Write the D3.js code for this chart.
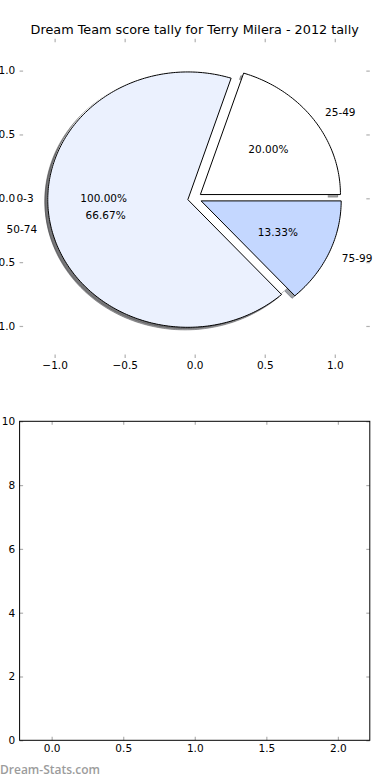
<!DOCTYPE html>
<html>
<head>
<meta charset="utf-8">
<script src="https://cdn.jsdelivr.net/npm/d3@7"></script>
<style>
  html, body { margin: 0; padding: 0; background: #fff; }
  svg { display: block; font-family: "DejaVu Sans", sans-serif; }
</style>
</head>
<body>
<script>
// ---- data ----
const title = "Dream Team score tally for Terry Milera - 2012 tally";
const firstLabels = ["0-3"];
const firstValues = [1];
const pieLabels = ["25-49", "50-74", "75-99"];
const pieValues = [3, 10, 2];
const pieColors = ["#ffffff", "#ebf1fe", "#c4d7ff"];
const firstColors = ["#ffffff"];
const pieTicks = [-1.0, -0.5, 0.0, 0.5, 1.0];
const barXTicks = [0.0, 0.5, 1.0, 1.5, 2.0];
const barYTicks = [0, 2, 4, 6, 8, 10];
const watermark = "Dream-Stats.com";

const W = 390, H = 780;
const svg = d3.select("body").append("svg").attr("width", W).attr("height", H);

const L = 19.6, R = 369.8;
const fs = 10.5;
const tickColor = "#b0b0b0";

// ---- top (pie) axes ----
const xTop = d3.scaleLinear().domain([-1.25, 1.25]).range([L, R]);
const yTop = d3.scaleLinear().domain([-1.25, 1.25]).range([357.9, 38.7]);

svg.append("text").attr("x", (L + R) / 2).attr("y", 34)
  .attr("text-anchor", "middle").attr("font-size", 12.8).attr("fill", "#000")
  .text(title);

function styleAxis(g) {
  g.select(".domain").remove();
  g.selectAll(".tick line").attr("stroke", tickColor).attr("stroke-width", 1.2);
  g.selectAll(".tick text").attr("fill", "#000").attr("font-size", fs)
    .attr("font-family", "DejaVu Sans, sans-serif");
}
const fmt1 = d3.format(".1f");
const tk = 3.5;

svg.append("g").attr("transform", `translate(0,${yTop.range()[0]})`)
  .call(d3.axisBottom(xTop).tickValues(pieTicks).tickFormat(fmt1).tickSizeInner(-tk).tickSizeOuter(0).tickPadding(3.4))
  .call(styleAxis);
svg.append("g").attr("transform", `translate(0,${yTop.range()[1]})`)
  .call(d3.axisTop(xTop).tickValues(pieTicks).tickFormat("").tickSizeInner(-tk).tickSizeOuter(0))
  .call(styleAxis);
svg.append("g").attr("transform", `translate(${L},0)`)
  .call(d3.axisLeft(yTop).tickValues(pieTicks).tickFormat(fmt1).tickSizeInner(-tk).tickSizeOuter(0).tickPadding(4.4))
  .call(styleAxis);
svg.append("g").attr("transform", `translate(${R},0)`)
  .call(d3.axisRight(yTop).tickValues(pieTicks).tickFormat("").tickSizeInner(-tk).tickSizeOuter(0))
  .call(styleAxis);

// wedge path in data coordinates mapped through scales (ellipse because axes aspect differs)
function wedgePath(cx, cy, t1, t2, full) {
  const n = Math.max(8, Math.ceil((t2 - t1) / (Math.PI / 180)));
  const pts = [];
  for (let i = 0; i <= n; i++) {
    const t = t1 + (t2 - t1) * i / n;
    pts.push([xTop(cx + Math.cos(t)), yTop(cy + Math.sin(t))]);
  }
  let d = "";
  if (full) {
    d = "M" + pts.map(p => p.join(",")).join("L") + "Z";
  } else {
    d = `M${xTop(cx)},${yTop(cy)}L` + pts.map(p => p.join(",")).join("L") + "Z";
  }
  return d;
}

const pie = d3.pie().sort(null).startAngle(0).endAngle(2 * Math.PI);
const explode = 0.05;

function layout(values, labels, colors) {
  return pie(values).map((a, i) => {
    const tm = (a.startAngle + a.endAngle) / 2;
    const cx = explode * Math.cos(tm), cy = explode * Math.sin(tm);
    return { a, i, tm, cx, cy, label: labels[i], color: colors[i],
      frac: (a.endAngle - a.startAngle) / (2 * Math.PI),
      full: (a.endAngle - a.startAngle) >= 2 * Math.PI - 1e-9 };
  });
}
const first = layout(firstValues, firstLabels, firstColors);
const second = layout(pieValues, pieLabels, pieColors);
const all = first.concat(second);

function shadowColor(c) {
  const r = d3.rgb(c);
  return `rgba(${r.r * 0.3},${r.g * 0.3},${r.b * 0.3},0.5)`;
}
const sx = -0.02, sy = -0.02;
const pieG = svg.append("g");
// shadows below all wedges
pieG.selectAll("path.shadow").data(all).enter().append("path")
  .attr("d", d => wedgePath(d.cx + sx, d.cy + sy, d.a.startAngle, d.a.endAngle, d.full))
  .attr("fill", d => shadowColor(d.color))
  .attr("stroke", d => shadowColor(d.color)).attr("stroke-width", 1);
// first pie wedge (no visible outline)
pieG.selectAll("path.first").data(first).enter().append("path")
  .attr("d", d => wedgePath(d.cx, d.cy, d.a.startAngle, d.a.endAngle, d.full))
  .attr("fill", d => d.color).attr("stroke", "none");
// second pie wedges
pieG.selectAll("path.wedge").data(second).enter().append("path")
  .attr("d", d => wedgePath(d.cx, d.cy, d.a.startAngle, d.a.endAngle, d.full))
  .attr("fill", d => d.color).attr("stroke", "#000").attr("stroke-width", 1)
  .attr("stroke-linejoin", "miter");

const pct = d3.format(".2f");
const textG = svg.append("g").attr("font-size", fs).attr("fill", "#000");
all.forEach(d => {
  const lx = d.cx + 1.1 * Math.cos(d.tm), ly = d.cy + 1.1 * Math.sin(d.tm);
  textG.append("text").attr("x", xTop(lx)).attr("y", yTop(ly)).attr("dy", "0.36em")
    .attr("text-anchor", lx > 0 ? "start" : "end").text(d.label);
  const px = d.cx + 0.6 * Math.cos(d.tm), py = d.cy + 0.6 * Math.sin(d.tm);
  textG.append("text").attr("x", xTop(px)).attr("y", yTop(py)).attr("dy", "0.36em")
    .attr("text-anchor", "middle").text(pct(d.frac * 100) + "%");
});

// ---- bottom (empty) axes ----
const xB = d3.scaleLinear().domain([-0.224, 2.223]).range([L, R]);
const yB = d3.scaleLinear().domain([0, 10]).range([740.3, 421.3]);

svg.append("g").attr("transform", `translate(0,${yB.range()[0]})`)
  .call(d3.axisBottom(xB).tickValues(barXTicks).tickFormat(fmt1).tickSizeInner(-tk).tickSizeOuter(0).tickPadding(4.4))
  .call(styleAxis);
svg.append("g").attr("transform", `translate(0,${yB.range()[1]})`)
  .call(d3.axisTop(xB).tickValues(barXTicks).tickFormat("").tickSizeInner(-tk).tickSizeOuter(0))
  .call(styleAxis);
svg.append("g").attr("transform", `translate(${L},0)`)
  .call(d3.axisLeft(yB).tickValues(barYTicks).tickFormat(d3.format("d")).tickSizeInner(-tk).tickSizeOuter(0).tickPadding(4.4))
  .call(styleAxis);
svg.append("g").attr("transform", `translate(${R},0)`)
  .call(d3.axisRight(yB).tickValues(barYTicks).tickFormat("").tickSizeInner(-tk).tickSizeOuter(0))
  .call(styleAxis);
svg.append("rect").attr("x", L).attr("y", yB.range()[1])
  .attr("width", R - L).attr("height", yB.range()[0] - yB.range()[1])
  .attr("fill", "none").attr("stroke", "#000").attr("stroke-width", 1);

svg.append("text").attr("x", 0).attr("y", 774)
  .attr("font-family", "Open Sans, sans-serif").attr("font-weight", 600)
  .attr("font-size", 12).attr("fill", "#9c9c9c").text(watermark);
</script>
</body>
</html>
